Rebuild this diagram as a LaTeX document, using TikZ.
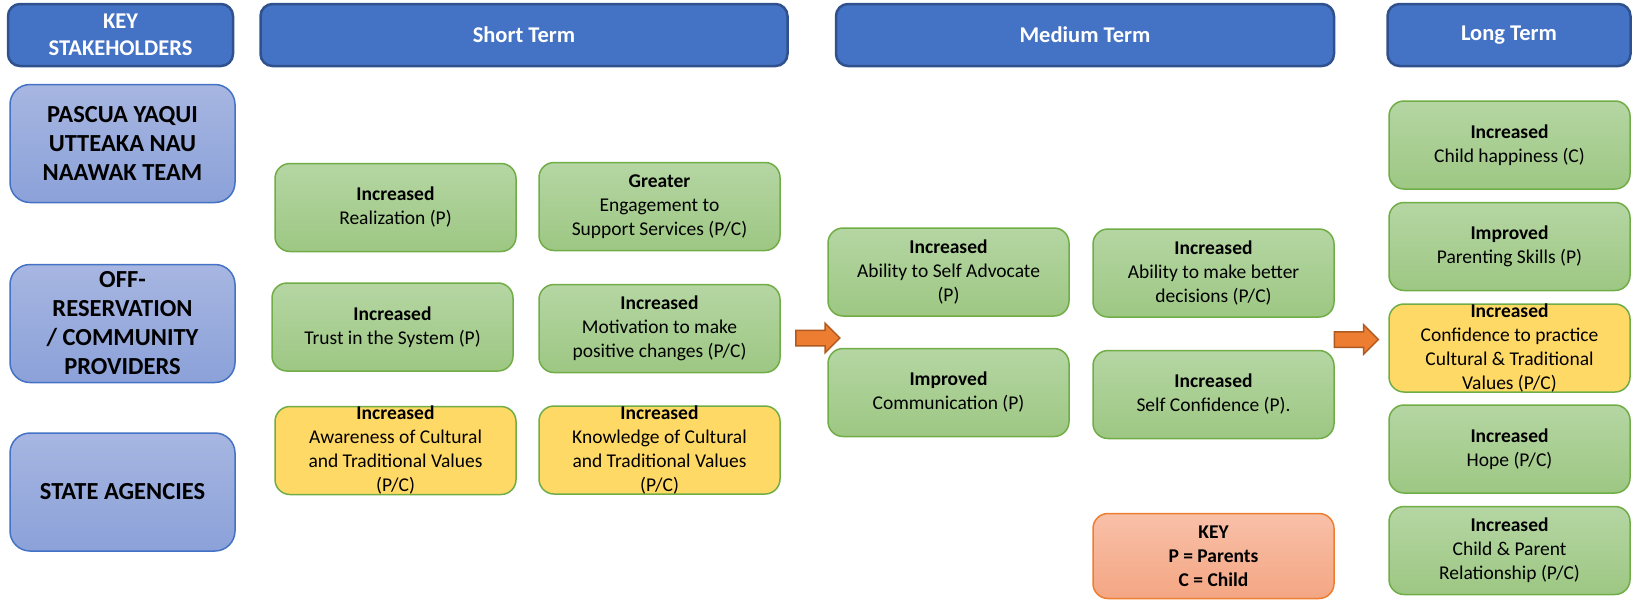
\documentclass[tikz,border=0pt]{standalone}
\usepackage{fontspec}
\setmainfont{Carlito}
\usepackage{tikz}
\usetikzlibrary{shapes.arrows}
\newcommand{\boxw}{241pt}
\newcommand{\boxh}{88pt}
\definecolor{hdrblue}{RGB}{68,114,196}
\definecolor{hdredge}{RGB}{47,82,143}
\definecolor{stktop}{RGB}{167,182,225}
\definecolor{stkbot}{RGB}{139,161,217}
\definecolor{grntop}{RGB}{181,214,163}
\definecolor{grnbot}{RGB}{157,199,131}
\definecolor{grnedge}{RGB}{112,173,71}
\definecolor{yelfill}{RGB}{255,217,102}
\definecolor{keytop}{RGB}{248,192,168}
\definecolor{keybot}{RGB}{244,166,131}
\definecolor{orng}{RGB}{237,125,49}
\definecolor{orngedge}{RGB}{174,90,33}
\tikzset{
  hdr/.style={draw=hdredge, line width=2.5pt, fill=hdrblue, rounded corners=12pt, minimum height=62pt, text=white, font=\fontsize{22.5}{27}\selectfont\bfseries, align=center, inner sep=0pt},
  stk/.style={draw=hdrblue, line width=1.5pt, top color=stktop, bottom color=stkbot, rounded corners=20pt, minimum width=225pt, minimum height=118pt, font=\fontsize{24.5}{29}\selectfont\bfseries, align=center, inner sep=0pt},
  res/.style={draw=grnedge, line width=1.5pt, rounded corners=15pt, minimum width=\boxw, minimum height=\boxh, inner sep=0pt},
  grn/.style={res, top color=grntop, bottom color=grnbot},
  yel/.style={res, fill=yelfill},
  keybox/.style={res, draw=orng, top color=keytop, bottom color=keybot},
  txt/.style={align=center, inner sep=0pt, font=\fontsize{19.5}{24}\selectfont},
  flow/.style={single arrow, draw=orngedge, line width=1.5pt, fill=orng, minimum height=44pt, single arrow head extend=7pt, inner xsep=0pt, inner ysep=7pt}
}

\begin{document}
\begin{tikzpicture}[x=1pt,y=-1pt]
	\useasboundingbox (0,0) rectangle (1637,600);
	% column headers
	\node [hdr, minimum width=225pt] (hkey) at (120.5,35) {KEY\\STAKEHOLDERS};
	\node [hdr, minimum width=527pt] (hshort) at (524,35) {Short Term};
	\node [hdr, minimum width=498pt] (hmed) at (1085,35) {Medium Term};
	\node [hdr, minimum width=243pt] (hlong) at (1509,35) {Long Term};
	% stakeholders
	\node [stk] (pascua) at (122.5,143.5) {PASCUA YAQUI\\UTTEAKA NAU\\NAAWAK TEAM};
	\node [stk] (offres) at (122.5,323.5) {OFF-\\RESERVATION\\/ COMMUNITY\\PROVIDERS};
	\node [stk] (state) at (122.5,492) {STATE AGENCIES};
	% short term
	\node [grn, label={[txt]center:{\textbf{Increased}\\Realization (P)}}] (real) at (395.5,207.5) {};
	\node [grn, label={[txt]center:{\textbf{Greater}\\Engagement to\\Support Services (P/C)}}] (engage) at (659.5,206.5) {};
	\node [grn, label={[txt]center:{\textbf{Increased}\\Trust in the System (P)}}] (trust) at (392.5,327) {};
	\node [grn, label={[txt]center:{\textbf{Increased}\\Motivation to make\\positive changes (P/C)}}] (motiv) at (659.5,328.5) {};
	\node [yel, label={[txt]center:{\textbf{Increased}\\Awareness of Cultural\\and Traditional Values\\(P/C)}}] (aware) at (395.5,450.5) {};
	\node [yel, label={[txt]center:{\textbf{Increased}\\Knowledge of Cultural\\and Traditional Values\\(P/C)}}] (know) at (659.5,450) {};
	% medium term
	\node [grn, label={[txt]center:{\textbf{Increased}\\Ability to Self Advocate\\(P)}}] (advoc) at (948.5,272) {};
	\node [grn, label={[txt]center:{\textbf{Improved}\\Communication (P)}}] (comm) at (948.5,392.5) {};
	\node [grn, label={[txt]center:{\textbf{Increased}\\Ability to make better\\decisions (P/C)}}] (decis) at (1213.5,273) {};
	\node [grn, label={[txt]center:{\textbf{Increased}\\Self Confidence (P).}}] (selfc) at (1213.5,394.5) {};
	\node [keybox, minimum height=85pt, label={[txt, font=\fontsize{19.5}{24}\selectfont\bfseries]center:{KEY\\P = Parents\\C = Child}}] (key) at (1213.5,556) {};
	% long term
	\node [grn, label={[txt]center:{\textbf{Increased}\\Child happiness (C)}}] (happy) at (1509.5,145) {};
	\node [grn, label={[txt]center:{\textbf{Improved}\\Parenting Skills (P)}}] (parent) at (1509.5,246.5) {};
	\node [yel, label={[txt]center:{\textbf{Increased}\\Confidence to practice\\Cultural \& Traditional\\Values (P/C)}}] (cultconf) at (1509.5,348) {};
	\node [grn, label={[txt]center:{\textbf{Increased}\\Hope (P/C)}}] (hope) at (1509.5,449) {};
	\node [grn, label={[txt]center:{\textbf{Increased}\\Child \& Parent\\Relationship (P/C)}}] (relat) at (1509.5,550.5) {};
	% block arrows between the terms
	\node [flow] (arrA) at (814,338) {};
	\node [flow] (arrB) at (1352.5,339.5) {};
\end{tikzpicture}
\end{document}
